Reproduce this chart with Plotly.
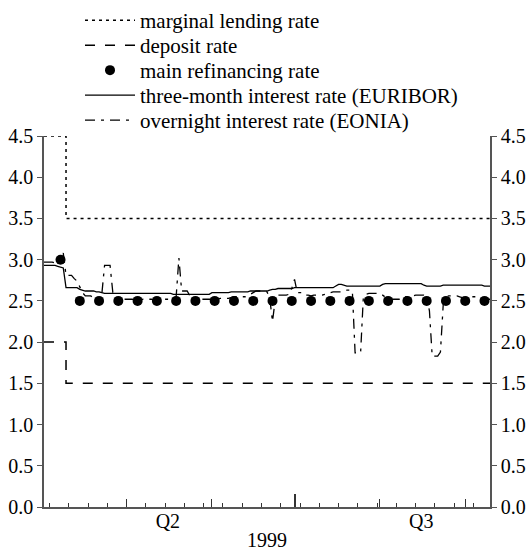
import plotly.graph_objects as go
import pandas as pd

# ---------------- data ----------------
# standing facility rates (change dates, step after)
rate_change_dates = ["1999-04-01", "1999-04-09", "1999-09-10"]
marginal_lending = [4.5, 3.5, 3.5]
deposit_rate = [2.0, 1.5, 1.5]

# main refinancing operations (weekly, Wednesdays)
mro_dates = pd.date_range("1999-04-07", "1999-09-08", freq="7D")
main_refi = [3.0, 2.5, 2.5, 2.5, 2.5, 2.5, 2.5, 2.5, 2.5, 2.5, 2.5, 2.5,
             2.5, 2.5, 2.5, 2.5, 2.5, 2.5, 2.5, 2.5, 2.5, 2.5, 2.5]

# daily (calendar) market rates
eonia_apr = [2.97, 2.97, 2.97, 2.97, 2.96, 2.97, 2.99, 3.08, 2.81, 2.81,
             2.81, 2.77, 2.74, 2.67, 2.60, 2.56, 2.56, 2.56, 2.53, 2.52,
             2.53, 2.58, 2.93, 2.93, 2.93, 2.60, 2.54, 2.52, 2.52, 2.52]
eonia_may = [2.52, 2.52, 2.52, 2.51, 2.51, 2.51, 2.52, 2.52, 2.52, 2.52,
             2.51, 2.51, 2.51, 2.52, 2.52, 2.52, 2.52, 2.53, 2.55, 3.02,
             2.62, 2.62, 2.62, 2.56, 2.52, 2.51, 2.51, 2.52, 2.52, 2.52, 2.52]
eonia_jun = [2.52, 2.51, 2.52, 2.53, 2.53, 2.53, 2.53, 2.54, 2.55, 2.55,
             2.55, 2.55, 2.55, 2.56, 2.58, 2.61, 2.62, 2.62, 2.62, 2.62,
             2.61, 2.53, 2.25, 2.52, 2.57, 2.57, 2.57, 2.57, 2.58, 2.65]
eonia_jul = [2.76, 2.60, 2.60, 2.60, 2.57, 2.57, 2.56, 2.57, 2.57, 2.57,
             2.57, 2.58, 2.59, 2.60, 2.61, 2.61, 2.61, 2.61, 2.62, 2.63,
             2.63, 2.62, 1.87, 1.87, 1.87, 2.55, 2.58, 2.59, 2.59, 2.59, 2.59]
eonia_aug = [2.59, 2.57, 2.54, 2.52, 2.52, 2.52, 2.52, 2.52, 2.54, 2.55,
             2.55, 2.56, 2.56, 2.57, 2.57, 2.57, 2.57, 2.55, 2.38, 1.83,
             1.83, 1.83, 1.88, 2.45, 2.55, 2.56, 2.56, 2.56, 2.56, 2.55, 2.54]
eonia_sep = [2.54, 2.55, 2.55, 2.55, 2.55, 2.53, 2.52, 2.52, 2.52, 2.52]

euribor_apr = [2.93, 2.93, 2.93, 2.93, 2.93, 2.92, 2.91, 2.90, 2.66, 2.66,
               2.66, 2.66, 2.66, 2.64, 2.63, 2.62, 2.62, 2.62, 2.62, 2.61,
               2.61, 2.60, 2.59, 2.59, 2.59, 2.59, 2.59, 2.59, 2.59, 2.59]
euribor_may = [2.59, 2.59, 2.59, 2.59, 2.59, 2.59, 2.59, 2.59, 2.59, 2.59,
               2.59, 2.59, 2.59, 2.59, 2.59, 2.59, 2.59, 2.58, 2.58, 2.58,
               2.58, 2.58, 2.58, 2.58, 2.58, 2.58, 2.58, 2.58, 2.58, 2.58, 2.58]
euribor_jun = [2.60, 2.60, 2.60, 2.60, 2.60, 2.60, 2.60, 2.61, 2.61, 2.61,
               2.61, 2.61, 2.61, 2.61, 2.62, 2.62, 2.62, 2.62, 2.62, 2.62,
               2.62, 2.63, 2.64, 2.64, 2.65, 2.65, 2.65, 2.65, 2.65, 2.65]
euribor_jul = [2.66, 2.66, 2.66, 2.66, 2.66, 2.66, 2.66, 2.66, 2.66, 2.66,
               2.66, 2.66, 2.66, 2.66, 2.66, 2.68, 2.70, 2.70, 2.69, 2.68,
               2.68, 2.68, 2.68, 2.68, 2.68, 2.68, 2.68, 2.68, 2.68, 2.68, 2.68]
euribor_aug = [2.68, 2.70, 2.71, 2.71, 2.71, 2.71, 2.71, 2.71, 2.71, 2.71,
               2.71, 2.71, 2.71, 2.71, 2.71, 2.71, 2.69, 2.68, 2.68, 2.68,
               2.68, 2.68, 2.68, 2.69, 2.69, 2.69, 2.69, 2.69, 2.69, 2.69, 2.69]
euribor_sep = [2.69, 2.69, 2.69, 2.69, 2.69, 2.69, 2.69, 2.68, 2.68, 2.68]

daily_dates = pd.date_range("1999-04-01", "1999-09-10", freq="D")
eonia = eonia_apr + eonia_may + eonia_jun + eonia_jul + eonia_aug + eonia_sep
euribor = euribor_apr + euribor_may + euribor_jun + euribor_jul + euribor_aug + euribor_sep

month_ticks = ["1999-04-01", "1999-05-01", "1999-06-01", "1999-07-01",
               "1999-08-01", "1999-09-01"]
quarter_ticks = ["1999-04-01", "1999-07-01"]
quarter_label_pos = ["1999-05-16", "1999-08-16"]
quarter_labels = ["Q2", "Q3"]
year_label = "1999"
y_ticks = [0.0, 0.5, 1.0, 1.5, 2.0, 2.5, 3.0, 3.5, 4.0, 4.5]

x_range = ["1999-04-01", "1999-09-10"]

# ---------------- figure ----------------
FONT = "Liberation Serif, Times New Roman, serif"
AX = "#555555"

fig = go.Figure()
fig.add_trace(go.Scatter(x=rate_change_dates, y=marginal_lending, mode="lines",
                         line=dict(color="black", width=1.5, dash="3px,4px", shape="hv"),
                         name="marginal lending rate", legend="legend"))
fig.add_trace(go.Scatter(x=rate_change_dates, y=deposit_rate, mode="lines",
                         line=dict(color="black", width=1.5, dash="10px,10px", shape="hv"),
                         name="deposit rate", legend="legend2"))
fig.add_trace(go.Scatter(x=mro_dates, y=main_refi, mode="markers",
                         marker=dict(color="black", size=10),
                         name="main refinancing rate", legend="legend3"))
fig.add_trace(go.Scatter(x=daily_dates, y=euribor, mode="lines",
                         line=dict(color="black", width=1.3),
                         name="three-month interest rate (EURIBOR)", legend="legend4"))
fig.add_trace(go.Scatter(x=daily_dates, y=eonia, mode="lines",
                         line=dict(color="black", width=1.3, dash="10px,6px,3px,6px"),
                         name="overnight interest rate (EONIA)", legend="legend5"))
# helper traces to bind the extra axes
fig.add_trace(go.Scatter(x=[], y=[], xaxis="x2", yaxis="y", showlegend=False))
fig.add_trace(go.Scatter(x=[], y=[], xaxis="x3", yaxis="y", showlegend=False))
fig.add_trace(go.Scatter(x=[], y=[], xaxis="x", yaxis="y2", showlegend=False))

tickfont = dict(family=FONT, size=20, color="black")
common_x = dict(type="date", range=x_range, showgrid=False, zeroline=False, fixedrange=True)

legend_font = dict(family=FONT, size=21, color="black")
rows_px = [22, 47, 72, 97, 122]
plot_top, plot_h = 136, 371
leg = {}
for i, r in enumerate(rows_px):
    key = "legend" if i == 0 else f"legend{i+1}"
    leg[key] = dict(x=(80 - 44) / 446, xanchor="left",
                    y=1 + (plot_top - (r - 22)) / plot_h, yanchor="top",
                    font=legend_font, bgcolor="rgba(0,0,0,0)", borderwidth=0,
                    itemwidth=50)

fig.update_layout(
    width=528, height=551,
    margin=dict(l=44, r=38, t=136, b=44, autoexpand=False),
    paper_bgcolor="white", plot_bgcolor="white",
    font=dict(family=FONT, size=20, color="black"),
    showlegend=True,
    xaxis=dict(**common_x, showline=True, linecolor=AX, linewidth=1.5,
               ticks="inside", tickvals=month_ticks, ticklen=8, tickwidth=1.2,
               tickcolor="#333", showticklabels=False,
               minor=dict(ticks="inside", ticklen=4, tickwidth=1.2, tickcolor="#333",
                          dtick=7 * 86400000, tick0="1999-04-03")),
    xaxis2=dict(**common_x, overlaying="x", anchor="y", showline=False,
                ticks="inside", tickvals=quarter_ticks, ticklen=13, tickwidth=1.5,
                tickcolor="#333", showticklabels=False),
    xaxis3=dict(**common_x, overlaying="x", anchor="y", showline=False,
                ticks="", tickvals=quarter_label_pos, ticktext=quarter_labels,
                tickfont=tickfont,
                title=dict(text=year_label, font=tickfont, standoff=6)),
    yaxis=dict(range=[0, 4.5], tickvals=y_ticks, tickformat=".1f", ticks="outside",
               ticklen=5, tickwidth=1.2, tickcolor=AX, showline=True, linecolor=AX,
               linewidth=1.5, showgrid=False, zeroline=False, tickfont=tickfont,
               fixedrange=True),
    yaxis2=dict(range=[0, 4.5], tickvals=y_ticks, tickformat=".1f", ticks="outside",
                ticklen=5, tickwidth=1.2, tickcolor=AX, showline=True, linecolor=AX,
                linewidth=1.5, showgrid=False, zeroline=False, tickfont=tickfont,
                overlaying="y", side="right", anchor="x", fixedrange=True),
    **leg,
)

fig.write_html("out.html", config={"displayModeBar": False},
               post_script="document.body.style.margin='0';document.body.style.overflow='hidden';")
